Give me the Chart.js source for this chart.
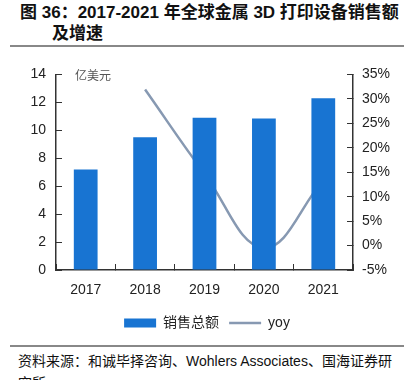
<!DOCTYPE html>
<html>
<head>
<meta charset="utf-8">
<script src="https://cdn.jsdelivr.net/npm/chart.js@4"></script>
<style>
  body { margin: 0; width: 414px; height: 380px; overflow: hidden; background: #fff;
         font-family: "Liberation Sans", "Noto Sans CJK SC", sans-serif; position: relative; }
  #title { position: absolute; left: 20px; top: 2px; font-size: 17px; font-weight: bold; color: #111;
           line-height: 21px; white-space: nowrap; }
  #title .l2 { padding-left: 32px; }
  #rule1 { position: absolute; left: 10px; top: 45px; width: 394px; height: 2px; background: #888; }
  #wrap { position: absolute; left: 0; top: 50px; width: 414px; height: 290px; }
  #rule2 { position: absolute; left: 10px; top: 345px; width: 394px; height: 2px; background: #888; }
  #src { position: absolute; left: 18px; top: 350px; font-size: 14px; color: #111; line-height: 22px; width: 386px; }
</style>
</head>
<body>
<div id="title">图 36：2017-2021 年全球金属 3D 打印设备销售额<br><span class="l2">及增速</span></div>
<div id="rule1"></div>
<div id="wrap"><canvas id="chart"></canvas></div>
<div id="rule2"></div>
<div id="src">资料来源：和诚毕择咨询、Wohlers Associates、国海证券研究所</div>
<script>
const years = ['2017', '2018', '2019', '2020', '2021'];
const sales = [7.2, 9.5, 10.9, 10.85, 12.3];      // 亿美元
const yoy = [null, 31.9, 14.7, -0.5, 13.4];        // %
const leftTicks = [0, 14, 2];
const rightTicks = [-5, 35, 5];

const tickFont = { family: '"Liberation Sans", Arial, sans-serif', size: 14 };

const unitLabel = {
  id: 'unitLabel',
  afterDraw(chart) {
    const c = chart.ctx;
    c.save();
    c.font = '12px "Noto Sans CJK SC", serif';
    c.fillStyle = '#555';
    c.textBaseline = 'middle';
    c.fillText('亿美元', chart.chartArea.left + 19, chart.chartArea.top + 1);
    c.restore();
  }
};

new Chart(document.getElementById('chart'), {
  data: {
    labels: years,
    datasets: [
      {
        type: 'bar',
        label: '销售总额',
        data: sales,
        yAxisID: 'y',
        backgroundColor: '#1874D2',
        borderWidth: 0,
        barPercentage: 0.4,
        categoryPercentage: 1,
        pointStyle: 'rect'
      },
      {
        type: 'line',
        label: 'yoy',
        data: yoy,
        yAxisID: 'y1',
        borderColor: '#8799B2',
        borderWidth: 2.5,
        pointRadius: 0,
        pointStyle: 'line',
        tension: 0.4,
        fill: false
      }
    ]
  },
  options: {
    animation: false,
    responsive: true,
    maintainAspectRatio: false,
    layout: { padding: { top: 12, left: 0, right: 0, bottom: 0 } },
    plugins: {
      tooltip: { enabled: false },
      legend: {
        position: 'bottom',
        labels: {
          usePointStyle: true,
          pointStyleWidth: 32,
          boxHeight: 9,
          padding: 10,
          color: '#222',
          font: { family: '"Liberation Sans", "Noto Sans CJK SC", sans-serif', size: 14 }
        }
      }
    },
    scales: {
      x: {
        grid: { display: true, drawOnChartArea: false, tickLength: -6, color: '#333', offset: true },
        border: { display: true, color: '#333', width: 1.5 },
        ticks: { color: '#222', font: tickFont, padding: 18, maxRotation: 0 },
        afterFit(s) { s.height = 36; }
      },
      y: {
        position: 'left',
        min: leftTicks[0], max: leftTicks[1],
        ticks: { stepSize: leftTicks[2], color: '#222', font: tickFont, padding: 16 },
        grid: { display: true, drawOnChartArea: false, tickLength: -6, color: '#333' },
        border: { display: true, color: '#333', width: 1.5 },
        afterFit(s) { s.width = 56; }
      },
      y1: {
        position: 'right',
        min: rightTicks[0], max: rightTicks[1],
        ticks: { stepSize: rightTicks[2], color: '#222', font: tickFont, padding: 15,
                 callback: v => v + '%' },
        grid: { display: true, drawOnChartArea: false, tickLength: -6, color: '#333' },
        border: { display: true, color: '#333', width: 1.5 },
        afterFit(s) { s.width = 61; }
      }
    }
  },
  plugins: [unitLabel]
});
</script>
</body>
</html>
